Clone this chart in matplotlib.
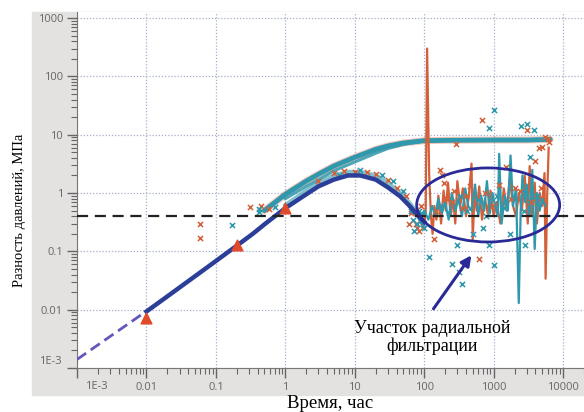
import matplotlib
matplotlib.use("Agg")
import matplotlib.pyplot as plt
from matplotlib.patches import Rectangle, Ellipse

# --- data ---
# dashed extrapolation at very early time
extrap_t = [0.001, 0.011]
extrap_p = [0.0014, 0.0102]

# model curve (dark blue)
model_t = [0.01, 0.02, 0.05, 0.1, 0.2, 0.34, 0.5, 1, 2, 3, 5, 8, 12, 20, 30, 45, 60, 80, 100]
model_p = [0.0093, 0.0169, 0.0374, 0.0683, 0.125, 0.2, 0.29, 0.55, 0.95, 1.3, 1.7, 2.0, 2.0,
           1.7, 1.25, 0.88, 0.62, 0.42, 0.32]

# upper curve (band of markers), two strands
upper_t = [0.5, 1, 2, 3, 5, 10, 20, 30, 50, 100, 200, 1000, 3000, 6500]
upper_p = [0.5, 0.95, 1.6, 2.1, 2.9, 4.1, 5.6, 6.4, 7.2, 7.9, 8.0, 8.1, 8.1, 8.3]
upper2_t = [1, 2, 3, 5, 10, 20, 30, 50, 100]
upper2_p = [0.8, 1.3, 1.7, 2.4, 3.4, 4.8, 5.8, 6.8, 7.8]

# observations along the lower curve
lower_obs_t = [1, 2, 3, 5, 8, 12, 20, 30, 45, 60, 75]
lower_obs_p = [0.62, 1.1, 1.5, 2.0, 2.3, 2.3, 2.0, 1.5, 1.0, 0.7, 0.5]

# noisy late-time records
orange_t = [88, 95, 100, 105, 110, 118, 125, 132, 140, 150, 160, 175, 190, 205, 220, 240,
            260, 280, 300, 330, 360, 400, 440, 480, 500, 530, 570, 620, 680, 750, 820, 900,
            1000, 1100, 1250, 1400, 1550, 1700, 1900, 2100, 2300, 2550, 2800, 3100, 3300,
            3600, 3900, 4200, 4600, 5000, 5400, 5600, 5900, 6200]
orange_p = [0.35, 0.25, 0.3, 0.45, 300, 2.0, 0.4, 0.2, 0.6, 0.35, 0.9, 0.3, 1.1, 0.5, 1.5, 0.4,
            0.8, 0.3, 1.6, 0.6, 1.2, 0.4, 0.9, 3.2, 0.16, 1.0, 0.5, 1.3, 0.35, 0.8, 0.45, 1.1,
            0.4, 0.7, 0.3, 1.2, 0.5, 1.8, 0.6, 0.4, 1.0, 0.5, 2.0, 0.3, 2.9, 0.4, 1.5, 0.3,
            1.0, 0.6, 2.2, 0.034, 0.9, 6.0]
teal_t = [80, 90, 100, 115, 130, 145, 160, 180, 200, 225, 250, 280, 310, 350, 390, 430, 480,
          540, 600, 660, 730, 800, 880, 960, 1050, 1150, 1200, 1300, 1450, 1600, 1750, 1900,
          2100, 2300, 2450, 2600, 2800, 3000, 3300, 3600, 3900, 4200, 4600, 5000, 5500]
teal_p = [0.4, 0.3, 0.5, 0.35, 0.6, 0.4, 0.8, 0.45, 0.7, 0.35, 1.0, 0.5, 0.8, 0.4, 1.2, 0.6,
          0.5, 1.4, 0.4, 0.9, 0.5, 1.6, 0.45, 1.0, 0.6, 0.4, 4.7, 0.3, 0.9, 0.5, 4.4, 0.6,
          1.2, 0.013, 0.5, 2.0, 0.7, 1.4, 0.4, 2.5, 0.11, 1.0, 0.5, 0.8, 0.6]

# scattered x-markers
orange_x_t = [0.06, 0.06, 0.31, 0.59, 0.45, 3, 5, 7, 10, 15, 20, 30, 40, 55, 70, 75, 85, 90,
              140, 620, 670, 290, 170, 180, 190, 250, 400, 1500, 2000, 3000, 4000, 5000,
              5500, 6000, 6200, 4500, 150, 210, 270, 350, 450, 550, 750, 950, 1200, 1800,
              2400, 3500, 4800, 60, 65, 78]
orange_x_p = [0.29, 0.17, 0.58, 0.54, 0.6, 1.6, 2.2, 2.4, 2.3, 2.3, 2.1, 1.7, 1.2, 0.9, 0.5,
              0.3, 0.22, 0.6, 0.16, 0.073, 18, 7.0, 2.5, 2.0, 1.5, 0.7, 0.9, 2.8, 1.2, 12,
              3.5, 6.2, 9, 8.5, 7.5, 6, 0.5, 0.8, 1.1, 0.55, 1.3, 0.7, 1.0, 0.6, 1.4, 0.8,
              1.1, 0.7, 1.2, 0.3, 0.45, 0.25]
teal_x_t = [0.17, 0.42, 0.42, 0.7, 6, 12, 25, 35, 50, 65, 70, 80, 90, 100, 118, 250, 318, 350,
            1000, 860, 2800, 300, 1000, 870, 2500, 3000, 3300, 3800, 1700, 500, 700,
            170, 230, 330, 420, 600, 780, 1100, 1400, 2000, 2700, 4200, 72, 85, 95]
teal_x_p = [0.28, 0.54, 0.48, 0.58, 2.0, 2.5, 2.0, 1.6, 1.1, 0.5, 0.35, 0.3, 0.45, 0.25,
            0.079, 0.06, 0.044, 0.028, 0.058, 0.127, 0.13, 0.13, 27, 13, 14, 15, 4.2, 12,
            0.2, 0.2, 0.25, 0.6, 0.45, 0.9, 0.5, 0.75, 0.4, 0.9, 0.55, 0.8, 0.5, 0.9,
            0.22, 0.5, 0.3]

# type-curve match points (triangles)
tri_t = [0.01, 0.2, 1]
tri_p = [0.0071, 0.126, 0.55]

radial_level = 0.41

xticks = [1e-3, 1e-2, 0.1, 1, 10, 100, 1000, 10000]
xticklabels = ["", "0.01", "0.1", "1", "10", "100", "1000", "10000"]
yticks = [1e-3, 1e-2, 0.1, 1, 10, 100, 1000]
yticklabels = ["", "0.01", "0.1", "1", "10", "100", "1000"]

ORANGE = "#d4603a"
TEAL = "#2f98ac"
NAVY = "#2b3f99"

fig = plt.figure(figsize=(5.84, 4.12), dpi=100)
fig.patches.append(Rectangle((32 / 584, 17 / 412), 552 / 584, 383 / 412,
                             transform=fig.transFigure, color="#e4e2e0", zorder=-1))
ax = fig.add_axes([77 / 584, 44 / 412, 507 / 584, 356 / 412])
ax.set_facecolor("white")
ax.set_xscale("log")
ax.set_yscale("log")
ax.set_xlim(1e-3, 2e4)
ax.set_ylim(1e-3, 1270)

ax.grid(True, which="major", ls=(0, (1, 1.5)), color="#a7aecd", lw=0.9)

# upper band
ax.plot(upper_t, upper_p, color=ORANGE, lw=5, alpha=0.35, solid_capstyle="round", zorder=2)
ax.plot(upper_t, upper_p, color=TEAL, lw=3.5, solid_capstyle="round", zorder=3)
ax.plot(upper2_t, upper2_p, color=TEAL, lw=2.2, alpha=0.85, zorder=3)

# noisy records
ax.plot(orange_t, orange_p, color=ORANGE, lw=1.6, zorder=3)
ax.plot(teal_t, teal_p, color=TEAL, lw=1.6, zorder=4)

# lower band of observations
ax.plot(lower_obs_t, lower_obs_p, color=TEAL, lw=3, alpha=0.6, zorder=3)

ax.scatter(orange_x_t, orange_x_p, marker="x", s=14, color=ORANGE, lw=1.1, zorder=4)
ax.scatter(teal_x_t, teal_x_p, marker="x", s=14, color=TEAL, lw=1.1, zorder=4)

# model and extrapolation
ax.plot(extrap_t, extrap_p, color="#6655bb", lw=2, ls=(0, (4, 2)), zorder=5)
ax.plot(model_t, model_p, color=NAVY, lw=3.2, zorder=5)
ax.scatter(tri_t, tri_p, marker="^", s=60, color="#e04a2a", zorder=6)

ax.axhline(radial_level, color="#222222", lw=1.6, ls=(0, (5, 3)), zorder=6)

# radial flow annotation
ax.add_patch(Ellipse((0.811, 0.458), 0.282, 0.208, transform=ax.transAxes,
                     fill=False, ec="#2a2a96", lw=2, zorder=7))
ax.annotate("", xy=(0.781, 0.323), xytext=(0.700, 0.160), xycoords="axes fraction",
            arrowprops=dict(arrowstyle="-|>", color="#2a2a96", lw=2.2, mutation_scale=15),
            zorder=7)
ax.text(0.700, 0.086, "Участок радиальной\nфильтрации", transform=ax.transAxes,
        ha="center", va="center", family="Liberation Serif", fontsize=13, linespacing=1.0,
        zorder=7)

# axes styling
for side in ("top", "right"):
    ax.spines[side].set_visible(False)
for side in ("left", "bottom"):
    ax.spines[side].set_color("#777777")
ax.set_xticks(xticks)
ax.set_xticklabels(xticklabels)
ax.set_yticks(yticks)
ax.set_yticklabels(yticklabels)
ax.tick_params(which="major", length=7, width=1, color="#666666", labelsize=8,
               labelcolor="#666666", pad=3)
ax.tick_params(which="minor", length=4, width=0.8, color="#666666")
for lab in ax.get_xticklabels() + ax.get_yticklabels():
    lab.set_family("Open Sans")
ax.annotate("1E-3", xy=(0, 0), xycoords="axes fraction", xytext=(14, -13),
            textcoords="offset points", ha="center", va="center", fontsize=8,
            color="#666666", family="Open Sans", annotation_clip=False)
ax.annotate("1E-3", xy=(0, 0), xycoords="axes fraction", xytext=(-11, 5),
            textcoords="offset points", ha="right", va="center", fontsize=8,
            color="#666666", family="Open Sans", annotation_clip=False)

fig.text(330 / 584, 1 - 404 / 412, "Время, час", ha="center", va="center",
         family="Liberation Serif", fontsize=13.5)
fig.text(20 / 584, 1 - 210 / 412, "Разность давлений, МПа", ha="center", va="center",
         rotation=90, family="Liberation Serif", fontsize=10.5)

fig.savefig("out.png", dpi=100)
